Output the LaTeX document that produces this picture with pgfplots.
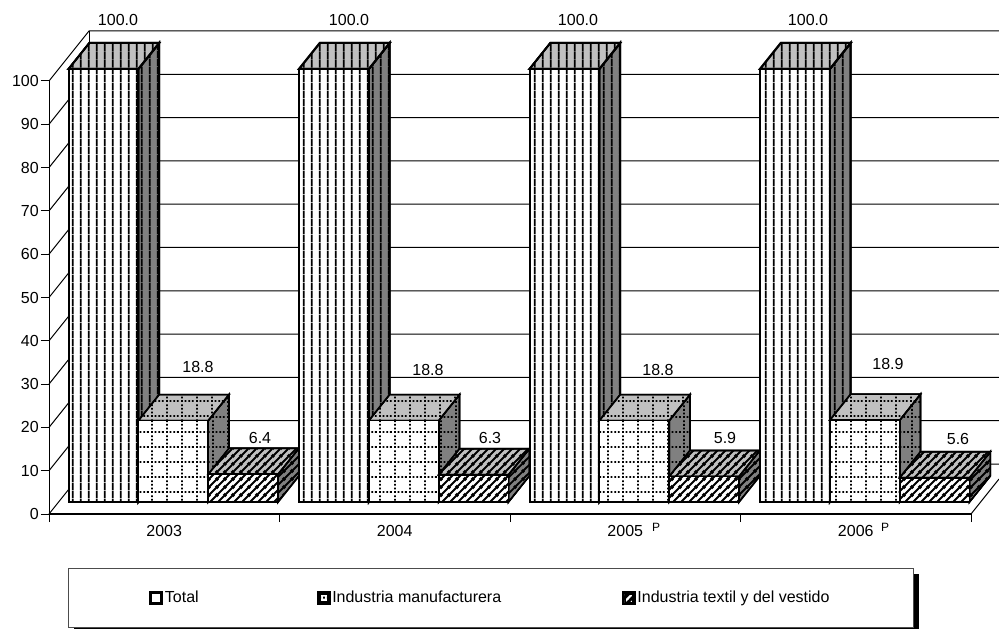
\documentclass[border=0pt]{standalone}
\usepackage{fontspec}
\setmainfont{Liberation Sans}
\usepackage{pgfplots}
\pgfplotsset{compat=1.18}
\usetikzlibrary{patterns}
\definecolor{topgray}{HTML}{C0C0C0}
\definecolor{sidegray}{HTML}{808080}
% 1 px = 0.75 pt
\pgfdeclarepatternformonly{vlines}{\pgfqpoint{0pt}{0pt}}{\pgfqpoint{5.775pt}{5.775pt}}{\pgfqpoint{5.775pt}{5.775pt}}{%
  \pgfpathrectangle{\pgfqpoint{2.3pt}{0pt}}{\pgfqpoint{1.2pt}{5.775pt}}\pgfusepath{fill}}
\pgfdeclarepatternformonly{dotgrid}{\pgfqpoint{0pt}{0pt}}{\pgfqpoint{11.4pt}{11.4pt}}{\pgfqpoint{11.4pt}{11.4pt}}{%
  \pgfpathrectangle{\pgfqpoint{0pt}{0pt}}{\pgfqpoint{1.4pt}{1.4pt}}%
  \pgfpathrectangle{\pgfqpoint{2.85pt}{0pt}}{\pgfqpoint{1.4pt}{1.4pt}}%
  \pgfpathrectangle{\pgfqpoint{5.7pt}{0pt}}{\pgfqpoint{1.4pt}{1.4pt}}%
  \pgfpathrectangle{\pgfqpoint{8.55pt}{0pt}}{\pgfqpoint{1.4pt}{1.4pt}}%
  \pgfpathrectangle{\pgfqpoint{0pt}{2.85pt}}{\pgfqpoint{1.4pt}{1.4pt}}%
  \pgfpathrectangle{\pgfqpoint{0pt}{5.7pt}}{\pgfqpoint{1.4pt}{1.4pt}}%
  \pgfpathrectangle{\pgfqpoint{0pt}{8.55pt}}{\pgfqpoint{1.4pt}{1.4pt}}%
  \pgfusepath{fill}}
\pgfdeclarepatternformonly{hatch}{\pgfqpoint{0pt}{0pt}}{\pgfqpoint{5.6pt}{5.6pt}}{\pgfqpoint{5.6pt}{5.6pt}}{%
  \pgfsetlinewidth{1.5pt}%
  \pgfpathmoveto{\pgfqpoint{-1pt}{-1pt}}\pgfpathlineto{\pgfqpoint{6.6pt}{6.6pt}}%
  \pgfpathmoveto{\pgfqpoint{-6.6pt}{-1pt}}\pgfpathlineto{\pgfqpoint{1pt}{6.6pt}}%
  \pgfpathmoveto{\pgfqpoint{4.6pt}{-1pt}}\pgfpathlineto{\pgfqpoint{12.2pt}{6.6pt}}%
  \pgfusepath{stroke}}
% #1 left, #2 right, #3 value, #4 pattern, #5 outline width
\newcommand\cube[5]{%
  \addplot3[draw=black,line width=#5,line join=miter,fill=sidegray,postaction={pattern=#4,pattern color=black},forget plot]
    coordinates {(#2,0.24,0)(#2,0.76,0)(#2,0.76,#3)(#2,0.24,#3)} -- cycle;
  \addplot3[draw=black,line width=#5,line join=miter,fill=topgray,postaction={pattern=#4,pattern color=black},forget plot]
    coordinates {(#1,0.24,#3)(#2,0.24,#3)(#2,0.76,#3)(#1,0.76,#3)} -- cycle;
  \addplot3[draw=black,line width=#5,line join=miter,fill=white,postaction={pattern=#4,pattern color=black},forget plot]
    coordinates {(#1,0.24,0)(#2,0.24,0)(#2,0.24,#3)(#1,0.24,#3)} -- cycle;
}
\newcommand\grid[1]{%
  \addplot3[black,line width=0.75pt,forget plot] coordinates {(0,0,#1)(0,1,#1)(3.948,1,#1)};
}
\newcommand\swatch[1]{%
  \fill[black] (0pt,-4.9pt) rectangle (9.75pt,4.9pt);
  \fill[white] (2.2pt,-2.7pt) rectangle (7.55pt,2.7pt);
  \fill[pattern=#1,pattern color=black] (2.2pt,-2.7pt) rectangle (7.55pt,2.7pt);
}
\begin{document}
\fontsize{12pt}{14pt}\selectfont
\begin{tikzpicture}[x=0.75pt,y=0.75pt,font=\fontsize{12pt}{14pt}\selectfont]
\path[use as bounding box] (0,0) rectangle (999,629);
% legend box and its shadow
\fill[black] (74,0) rectangle (919,55);
\draw[fill=white,draw=black!70,line width=0.75pt] (68,61) rectangle (913,2);
% 2D axis: value axis, category axis, legend
\begin{axis}[
  at={(36.75pt,86.25pt)},anchor=south west,scale only axis,
  width=691.5pt,height=324.75pt,
  xmin=0,xmax=4,ymin=0,ymax=100,
  axis x line*=bottom,axis y line*=left,
  x axis line style={line width=1.5pt},
  y axis line style={line width=0.75pt},
  clip=false,
  xtick={0,1,2,3,4},xticklabels={},
  ytick={0,10,...,100},
  tick align=outside,major tick length=6pt,
  tick style={black,line width=0.75pt},
  extra x ticks={0.5,1.5,2.5,3.5},
  extra x tick labels={2003,2004,2005,2006},
  extra x tick style={major tick length=0pt,tick label style={yshift=-4pt}},
  /pgf/number format/assume math mode=true,
  tick label style={font=\fontsize{12pt}{14pt}\selectfont},
  ylabel style={},
  yticklabel style={inner xsep=1.5pt},
  legend columns=3,
  legend cell align=left,
  legend style={at={(0.4788,-0.194)},anchor=center,draw=none,fill=none,
    font=\fontsize{12pt}{14pt}\selectfont,
    /tikz/column 2/.style={column sep=87pt},
    /tikz/column 4/.style={column sep=89pt},
    nodes={inner xsep=1.5pt,inner ysep=0pt}},
]
\addlegendimage{legend image code/.code={\fill[black] (0pt,-4.9pt) rectangle (9.75pt,4.9pt);\fill[white] (2.2pt,-2.7pt) rectangle (7.55pt,2.7pt);}}
\addlegendentry{Total}
\addlegendimage{legend image code/.code={\swatch{dotgrid}}}
\addlegendentry{Industria manufacturera}
\addlegendimage{legend image code/.code={\fill[black] (0pt,-4.9pt) rectangle (9.75pt,4.9pt);\fill[pattern=hatch,pattern color=white] (2pt,-3pt) rectangle (7.75pt,3pt);}}
\addlegendentry{Industria textil y del vestido}
\end{axis}
% oblique 3D axis: walls, grid and bars
\begin{axis}[
  at={(36.75pt,86.25pt)},anchor=origin,
  hide axis,clip=false,
  x={(172.875pt,0pt)},y={(30pt,37.5pt)},z={(0pt,3.2475pt)},
  xmin=0,xmax=4,ymin=0,ymax=1,zmin=0,zmax=100,
]
\grid{0}\grid{10}\grid{20}\grid{30}\grid{40}\grid{50}\grid{60}\grid{70}\grid{80}\grid{90}\grid{100}
\addplot3[black,line width=0.75pt,forget plot] coordinates {(0,1,0)(0,1,100)};
\addplot3[black,line width=0.75pt,forget plot] coordinates {(4,0,0)(4,0.7,0)};
\cube{0.043}{0.346}{100}{vlines}{1.5pt}
\cube{0.346}{0.649}{18.8}{dotgrid}{1.2pt}
\cube{0.649}{0.952}{6.4}{hatch}{1.2pt}
\cube{1.043}{1.346}{100}{vlines}{1.5pt}
\cube{1.346}{1.649}{18.8}{dotgrid}{1.2pt}
\cube{1.649}{1.952}{6.3}{hatch}{1.2pt}
\cube{2.043}{2.346}{100}{vlines}{1.5pt}
\cube{2.346}{2.649}{18.8}{dotgrid}{1.2pt}
\cube{2.649}{2.952}{5.9}{hatch}{1.2pt}
\cube{3.043}{3.346}{100}{vlines}{1.5pt}
\cube{3.346}{3.649}{18.9}{dotgrid}{1.2pt}
\cube{3.649}{3.952}{5.6}{hatch}{1.2pt}
\end{axis}
% value labels
\node at (118,609) {100.0};
\node at (349,609) {100.0};
\node at (578,609) {100.0};
\node at (808,609) {100.0};
\node at (198,262) {18.8};
\node at (428,259) {18.8};
\node at (658,259) {18.8};
\node at (888,265) {18.9};
\node at (260,191) {6.4};
\node at (490,191) {6.3};
\node at (725,191) {5.9};
\node at (958,190) {5.6};
\node[font=\fontsize{9pt}{10pt}\selectfont] at (656,102) {P};
\node[font=\fontsize{9pt}{10pt}\selectfont] at (885,102) {P};
\end{tikzpicture}
\end{document}
